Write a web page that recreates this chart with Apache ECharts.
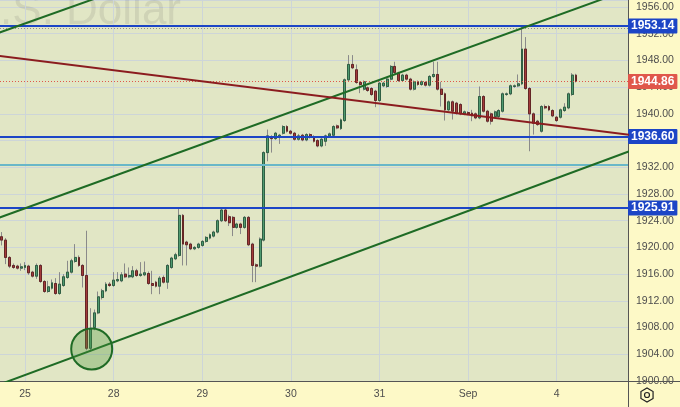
<!DOCTYPE html>
<html><head><meta charset="utf-8">
<script src="https://cdn.jsdelivr.net/npm/echarts@6/dist/echarts.min.js"></script>
<style>html,body{margin:0;padding:0;background:#fdf9c7}#c{width:680px;height:407px}</style>
</head><body><div id="c"></div>
<script>
// ---- data (hourly candles, Aug 24 – Sep 4) ----
const opens = [1921.6,1921.1,1918.5,1917.3,1917.2,1916.9,1917.0,1917.2,1916.3,1915.7,1917.3,1914.9,1913.4,1913.9,1914.6,1913.1,1914.3,1915.5,1916.3,1917.9,1918.5,1917.3,1915.8,1904.9,1908.0,1910.2,1912.5,1913.5,1914.5,
1914.3,1915.0,1915.0,1916.0,1915.6,1915.6,1916.5,1915.8,1915.9,1916.1,1914.6,1914.8,1914.2,1915.5,1914.8,1917.0,1918.3,1918.8,1924.8,1920.8,1920.5,1919.8,1920.0,
1920.3,1920.9,1921.4,1921.7,1922.3,1924.0,1925.6,1924.6,1924.5,1923.0,1923.5,1923.0,1924.5,1920.5,1917.4,1917.2,1921.1,1934.2,1936.6,1936.3,1936.5,1937.1,1938.1,
1937.4,1937.1,1936.2,1936.8,1936.1,1936.9,1936.6,1936.0,1935.2,1935.9,1936.7,1936.8,1938.2,1937.8,1939.0,1945.1,1947.4,1946.6,1944.7,1943.7,1943.9,1943.8,1943.4,
1942.0,1944.2,1944.1,1945.2,1947.1,1946.1,1945.0,1945.8,1945.2,1943.7,1944.8,1944.4,1944.7,1944.3,1945.6,1945.9,1943.7,1943.0,1940.6,1941.8,1941.6,1941.4,1940.0,
1940.2,1940.1,1940.0,1939.4,1942.6,1940.4,1940.0,1939.6,1939.6,1940.4,1942.9,1943.0,1944.1,1944.2,1944.5,1949.7,1943.8,1940.0,1938.9,1937.4,1941.1,1941.1,1940.5,
1939.5,1939.5,1940.5,1940.9,1942.9,1945.8];
const closes = [1921.1,1918.5,1917.2,1917.0,1916.9,1917.1,1917.3,1916.2,1915.7,1917.3,1914.9,1913.4,1914.1,1914.7,1913.1,1914.5,1915.6,1916.3,1918.0,1918.5,1917.3,1915.8,1904.9,1907.8,1910.2,1912.6,1913.5,1914.5,1914.3,
1915.1,1915.2,1915.9,1915.6,1915.8,1916.5,1915.8,1916.0,1916.2,1914.6,1914.3,1914.2,1915.4,1914.8,1917.3,1918.4,1918.9,1924.8,1920.5,1920.4,1919.8,1920.0,1920.5,
1920.9,1921.5,1921.9,1922.3,1924.0,1925.6,1924.0,1923.7,1923.0,1923.5,1923.0,1924.5,1920.4,1917.3,1917.2,1921.25,1934.2,1936.7,1936.3,1937.1,1936.8,1938.1,1937.4,
1937.1,1936.2,1936.7,1936.1,1936.9,1936.5,1935.9,1935.2,1936.2,1936.7,1937.0,1938.1,1937.9,1939.1,1945.1,1947.4,1946.9,1944.7,1944.4,1944.8,1943.5,1942.9,1942.0,
1944.6,1944.6,1945.2,1947.1,1946.2,1945.0,1945.8,1945.2,1943.7,1944.8,1944.4,1944.8,1944.3,1945.6,1945.9,1943.7,1942.9,1940.6,1941.8,1940.4,1940.1,1940.0,1940.3,
1940.0,1939.7,1939.4,1942.6,1940.4,1938.9,1938.9,1940.3,1940.5,1943.0,1943.0,1944.2,1944.2,1944.5,1949.7,1943.8,1940.0,1938.6,1938.4,1941.1,1940.9,1940.6,1939.7,
1939.0,1940.6,1941.0,1943.0,1945.8,1944.86];
const lows = [1920.3,1917.5,1916.9,1916.8,1916.7,1916.5,1916.6,1915.9,1915.5,1915.3,1914.7,1913.2,1913.2,1913.7,1912.9,1912.9,1914.1,1915.3,1916.1,1917.7,1917.1,1914.0,1904.6,1904.4,1907.6,1910.0,1912.2,1913.3,1914.1,
1914.1,1914.8,1914.8,1915.4,1915.4,1915.4,1915.6,1915.6,1915.7,1914.4,1913.0,1914.0,1913.0,1914.6,1913.8,1916.8,1918.1,1918.6,1917.3,1917.3,1919.6,1919.6,1919.8,
1920.1,1920.7,1921.2,1921.5,1922.1,1923.8,1923.8,1923.2,1921.7,1922.8,1922.0,1922.8,1920.2,1914.8,1914.8,1917.0,1920.9,1932.9,1934.2,1936.1,1935.5,1936.9,1937.2,
1936.9,1936.0,1936.0,1935.9,1935.9,1936.3,1935.7,1935.0,1935.0,1935.2,1936.5,1936.6,1937.7,1937.6,1938.8,1944.9,1946.7,1944.5,1943.1,1943.5,1943.3,1942.7,1941.0,
1941.8,1944.0,1943.9,1945.0,1946.0,1944.8,1944.8,1945.0,1943.5,1943.5,1944.2,1944.2,1944.1,1944.1,1945.4,1943.5,1941.1,1939.0,1940.4,1939.15,1939.9,1939.8,1939.8,
1939.8,1938.9,1939.2,1939.2,1940.2,1938.7,1938.4,1939.4,1939.4,1940.2,1942.7,1942.8,1943.9,1944.0,1944.3,1943.6,1934.4,1936.9,1938.2,1937.2,1940.7,1940.4,1939.5,
1938.8,1939.3,1940.3,1940.7,1942.7,1944.7];
const highs = [1922.3,1921.4,1918.7,1917.6,1917.4,1917.6,1917.8,1917.4,1916.5,1917.6,1917.5,1915.1,1915.0,1915.2,1915.4,1916.3,1916.0,1918.0,1918.3,1920.5,1918.8,1917.5,1922.5,1910.9,1910.7,1913.4,1913.8,1914.8,1914.8,
1916.3,1916.3,1916.3,1917.6,1917.0,1917.2,1916.8,1917.8,1917.9,1916.4,1916.5,1915.0,1915.7,1915.8,1917.5,1918.6,1919.2,1926.0,1925.0,1921.0,1920.7,1920.2,1920.7,
1921.1,1921.7,1922.1,1922.5,1924.2,1926.0,1925.9,1924.9,1924.7,1923.7,1923.7,1924.7,1924.7,1920.7,1917.6,1921.5,1934.4,1937.65,1936.8,1937.3,1937.0,1938.3,1938.3,
1937.6,1937.3,1937.0,1937.0,1937.1,1937.1,1936.8,1936.2,1936.4,1936.9,1937.2,1938.3,1938.4,1939.3,1945.3,1948.8,1948.8,1947.4,1944.9,1945.0,1944.1,1944.0,1943.6,
1944.8,1944.8,1945.4,1947.3,1947.8,1946.3,1946.0,1946.0,1945.4,1945.0,1945.0,1945.0,1944.9,1945.8,1947.8,1947.8,1944.8,1943.2,1942.0,1942.0,1941.8,1941.6,1940.5,
1940.4,1940.6,1940.2,1944.1,1942.8,1940.6,1940.2,1940.5,1940.7,1943.2,1943.2,1944.4,1944.4,1945.9,1953.1,1951.5,1944.0,1940.2,1939.1,1941.3,1941.4,1941.3,1940.7,
1939.7,1940.8,1941.6,1943.2,1946.1,1946.0];

const slotCount = 163;                       // hourly slots visible across the plot
const dayTickIndex = [6, 29, 52, 75, 98, 121, 144];
const dayTickLabels = ['25', '28', '29', '30', '31', 'Sep', '4'];
const levelLines = [1953.14, 1936.60, 1925.91];
const lastPrice = 1944.86;
const dottedLevel = 1952.75;
const tealLevel = 1932.38;
// trend lines: [slotPosition, price] endpoints
const trendUpper = [[-2, 1951.80], [40, 1960.41]];
const trendMiddle = [[-2, 1924.08], [165, 1958.99]];
const trendLower = [[-2, 1899.08], [165, 1934.75]];
const trendMaroon = [[-2, 1948.80], [165, 1936.75]];
const circleMark = [[23.8, 1904.8]];

// ---- build ----
const categories = Array.from({length: slotCount}, (_, i) => String(i));
const wickData = opens.map((o, i) => [o, closes[i], lows[i], highs[i]]);
const bodyData = opens.map((o, i) => [o, closes[i], Math.min(o, closes[i]), Math.max(o, closes[i])]);

const chart = echarts.init(document.getElementById('c'), null, {renderer: 'canvas'});
const gridCol = '#cdd5d8';
const blue = '#1c45c6';
const textCol = '#4d4d4d';
const font = '"Liberation Sans", Arial, sans-serif';

function tag(val, bg) {
  return {
    show: true, position: 'end', distance: 0,
    formatter: () => val.toFixed(2),
    color: '#fff', backgroundColor: bg, padding: [2, 3, 1, 3],
    fontSize: 12, fontWeight: 'bold', fontFamily: font, borderRadius: 1
  };
}

const hexPts = [];
for (let k = 0; k < 6; k++) { const a = Math.PI / 6 + k * Math.PI / 3; hexPts.push([647 + 7 * Math.cos(a), 395 + 7 * Math.sin(a)]); }

chart.setOption({
  animation: false,
  backgroundColor: '#fdf9c7',
  grid: {left: 0, right: 52, top: 0, bottom: 26, show: true, backgroundColor: '#e1e6c5', borderWidth: 0},
  xAxis: [{
    type: 'category', data: categories, boundaryGap: true,
    axisLine: {show: true, onZero: false, lineStyle: {color: '#555', width: 1}},
    axisTick: {show: false},
    splitLine: {show: false},
    axisLabel: {
      interval: (i) => dayTickIndex.includes(i),
      formatter: (v, i) => { const k = dayTickIndex.indexOf(Number(v)); return k >= 0 ? dayTickLabels[k] : ''; },
      color: textCol, fontSize: 10.5, fontFamily: font, margin: 8
    }
  }, {
    type: 'value', min: 0, max: slotCount, show: false
  }],
  yAxis: {
    type: 'value', position: 'right', min: 1900, max: 1957.05, interval: 4,
    axisLine: {show: true, onZero: false, lineStyle: {color: '#555', width: 1}},
    axisTick: {show: false},
    axisLabel: {formatter: v => (Math.abs(v % 4) < 1e-6 ? v.toFixed(2) : ''), color: textCol, fontSize: 10.5, fontFamily: font, margin: 8, showMaxLabel: false},
    splitLine: {lineStyle: {color: gridCol, width: 1}}
  },
  graphic: [
    {type: 'text', z: 1, x: 181, y: 34,
     style: {text: 'Gold Spot / U.S. Dollar', fill: 'rgba(60,60,60,0.11)', font: '44px "Liberation Sans", Arial, sans-serif', textAlign: 'right', textVerticalAlign: 'bottom'}},
    {type: 'line', z: 10, shape: {x1: 628, y1: 381.5, x2: 680, y2: 381.5}, style: {stroke: '#555', lineWidth: 1}},
    {type: 'line', z: 10, shape: {x1: 628.5, y1: 381, x2: 628.5, y2: 407}, style: {stroke: '#555', lineWidth: 1}},
    {type: 'polygon', z: 10, shape: {points: hexPts}, style: {fill: 'none', stroke: '#222', lineWidth: 1.2}},
    {type: 'circle', z: 10, shape: {cx: 647, cy: 395, r: 2.5}, style: {fill: 'none', stroke: '#222', lineWidth: 1.2}}
  ],
  series: [
    {
      type: 'candlestick', data: wickData, barWidth: 2.4, z: 2, silent: true,
      itemStyle: {color: '#8a8a8a', color0: '#8a8a8a', borderColor: '#8a8a8a', borderColor0: '#8a8a8a', borderWidth: 1},
      markLine: {silent: true, symbol: 'none', label: {show: false}, animation: false, z: 1,
        lineStyle: {color: gridCol, type: 'solid', width: 1},
        data: dayTickIndex.map(i => ({xAxis: i}))}
    },
    {
      type: 'candlestick', data: bodyData, barWidth: 2.4, z: 3, silent: true,
      itemStyle: {color: '#4f9a70', color0: '#a33a3a', borderColor: '#2f5f43', borderColor0: '#642626', borderWidth: 1}
    },
    {
      type: 'line', xAxisIndex: 1, data: trendUpper, symbol: 'none', z: 6, silent: true,
      lineStyle: {color: '#1e6b25', width: 2}
    },
    {
      type: 'line', xAxisIndex: 1, data: trendMiddle, symbol: 'none', z: 6, silent: true,
      lineStyle: {color: '#1e6b25', width: 2}
    },
    {
      type: 'line', xAxisIndex: 1, data: trendLower, symbol: 'none', z: 6, silent: true,
      lineStyle: {color: '#1e6b25', width: 2}
    },
    {
      type: 'line', xAxisIndex: 1, data: trendMaroon, symbol: 'none', z: 6, silent: true,
      lineStyle: {color: '#8b1c1f', width: 2}
    },
    {
      type: 'line', data: [], z: 7, silent: true,
      markLine: {silent: true, symbol: 'none', animation: false,
        data: [
          {yAxis: dottedLevel, lineStyle: {color: '#8c8c8c', type: [1, 2], width: 1}, label: {show: false}},
          {yAxis: tealLevel, lineStyle: {color: '#69b7c8', type: 'solid', width: 2}, label: {show: false}},
          {yAxis: lastPrice, lineStyle: {color: '#e0574b', type: [1, 2], width: 1}, label: tag(lastPrice, '#e0574b')},
          ...levelLines.map(v => ({yAxis: v, lineStyle: {color: blue, type: 'solid', width: 2}, label: tag(v, blue)}))
        ]}
    },
    {
      type: 'scatter', xAxisIndex: 1, data: circleMark, symbol: 'circle', symbolSize: 41, z: 8, silent: true,
      itemStyle: {color: 'rgba(76,150,60,0.32)', borderColor: '#1f6b25', borderWidth: 2, opacity: 1}
    }
  ]
});
</script></body></html>
